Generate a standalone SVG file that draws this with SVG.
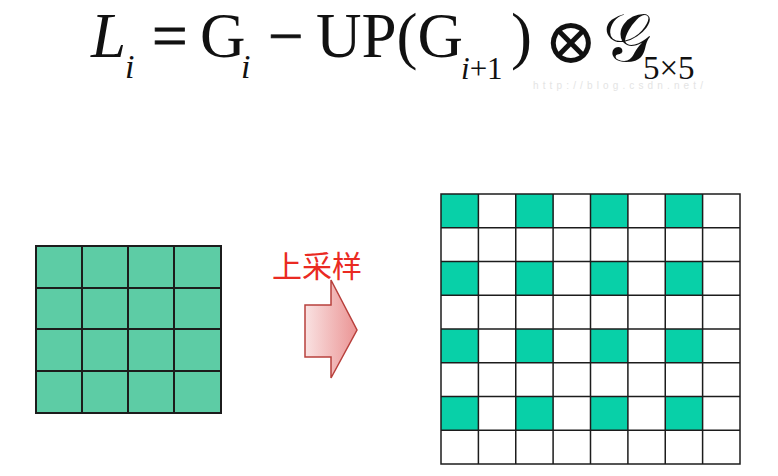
<svg xmlns="http://www.w3.org/2000/svg" width="778" height="476" viewBox="0 0 778 476">
<defs>
<linearGradient id="ag" x1="0" y1="0" x2="1" y2="0">
<stop offset="0" stop-color="#f9e2e2"/>
<stop offset="1" stop-color="#eb9494"/>
</linearGradient>
</defs>
<style>
.f{font-family:"Liberation Serif","DejaVu Serif",serif;fill:#111}
.big{font-size:63px}
.sub{font-size:34px}
.it{font-style:italic}
.lc{fill:#5dcca5;stroke:#1c1c1c;stroke-width:2}
</style>
<rect width="778" height="476" fill="#ffffff"/>
<g id="formula">
<text class="f big it" x="91" y="57">L</text>
<text class="f sub it" x="125" y="78">i</text>
<text class="f big" x="152" y="57" stroke="#111" stroke-width="0.8">=</text>
<text class="f big" x="200" y="57">G</text>
<text class="f sub it" x="241" y="78">i</text>
<text class="f big" x="268" y="57" stroke="#111" stroke-width="0.6">−</text>
<text class="f big" x="316" y="57">UP(G</text>
<text class="f" x="461" y="79" font-size="31"><tspan font-style="italic">i</tspan>+1</text>
<text class="f big" x="511" y="57">)</text>
<text class="f" x="544" y="63" font-size="64" font-family="DejaVu Sans">⊗</text>
<text class="f" x="603" y="61" font-size="68" font-family="DejaVu Serif">𝒢</text>
<text class="f" x="643" y="79" font-size="33">5×5</text>
<text x="533" y="89" font-family="Liberation Sans, sans-serif" font-size="10" fill="#e4e4e4" textLength="170" lengthAdjust="spacing">http://blog.csdn.net/</text>
</g>
<g id="left-grid">
<rect class="lc" x="36" y="246" width="46" height="42"/>
<rect class="lc" x="82" y="246" width="46" height="42"/>
<rect class="lc" x="128" y="246" width="46" height="42"/>
<rect class="lc" x="174" y="246" width="47" height="42"/>
<rect class="lc" x="36" y="288" width="46" height="41"/>
<rect class="lc" x="82" y="288" width="46" height="41"/>
<rect class="lc" x="128" y="288" width="46" height="41"/>
<rect class="lc" x="174" y="288" width="47" height="41"/>
<rect class="lc" x="36" y="329" width="46" height="42"/>
<rect class="lc" x="82" y="329" width="46" height="42"/>
<rect class="lc" x="128" y="329" width="46" height="42"/>
<rect class="lc" x="174" y="329" width="47" height="42"/>
<rect class="lc" x="36" y="371" width="46" height="42"/>
<rect class="lc" x="82" y="371" width="46" height="42"/>
<rect class="lc" x="128" y="371" width="46" height="42"/>
<rect class="lc" x="174" y="371" width="47" height="42"/>
</g>
<g id="label">
<text x="272" y="277" font-family="Noto Sans CJK SC, sans-serif" font-size="30" fill="#ea2a22">上采样</text>
</g>
<g id="connectors">
<path d="M305,305 L331,305 L331,280 L357,330 L331,378 L331,357 L305,357 Z" fill="url(#ag)" stroke="#b8403c" stroke-width="1.5" stroke-linejoin="miter"/>
</g>
<g id="right-grid">
<rect x="441" y="194" width="299" height="270" fill="#ffffff"/>
<g id="green-cells" fill="#08d0a8">
<rect x="441" y="194" width="37.4" height="33.75"/><rect x="515.75" y="194" width="37.4" height="33.75"/><rect x="590.5" y="194" width="37.4" height="33.75"/><rect x="665.25" y="194" width="37.4" height="33.75"/>
<rect x="441" y="261.5" width="37.4" height="33.75"/><rect x="515.75" y="261.5" width="37.4" height="33.75"/><rect x="590.5" y="261.5" width="37.4" height="33.75"/><rect x="665.25" y="261.5" width="37.4" height="33.75"/>
<rect x="441" y="329" width="37.4" height="33.75"/><rect x="515.75" y="329" width="37.4" height="33.75"/><rect x="590.5" y="329" width="37.4" height="33.75"/><rect x="665.25" y="329" width="37.4" height="33.75"/>
<rect x="441" y="396.5" width="37.4" height="33.75"/><rect x="515.75" y="396.5" width="37.4" height="33.75"/><rect x="590.5" y="396.5" width="37.4" height="33.75"/><rect x="665.25" y="396.5" width="37.4" height="33.75"/>
</g>
<g id="grid-lines" stroke="#1c1c1c" stroke-width="1.5" fill="none">
<rect x="441" y="194" width="299" height="270"/>
<path d="M478.4,194V464M515.75,194V464M553.1,194V464M590.5,194V464M627.9,194V464M665.25,194V464M702.6,194V464"/>
<path d="M441,227.75H740M441,261.5H740M441,295.25H740M441,329H740M441,362.75H740M441,396.5H740M441,430.25H740"/>
</g>
</g>
</svg>
